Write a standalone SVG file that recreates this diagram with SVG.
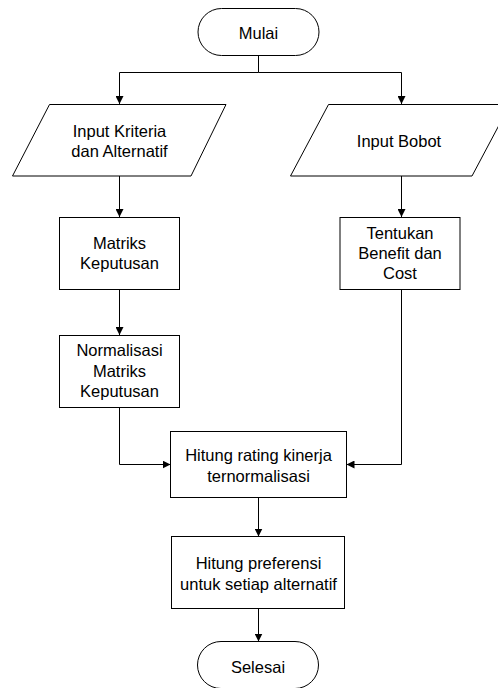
<svg xmlns="http://www.w3.org/2000/svg" width="498" height="688" viewBox="0 0 498 688">
<style>
.s{fill:#fff;stroke:#000;stroke-width:1}
.c{fill:none;stroke:#000;stroke-width:1}
text{font-family:"Liberation Sans",Arial,sans-serif;font-size:16.5px;fill:#000;text-anchor:middle}
</style>
<defs>
<marker id="ah" markerWidth="8" markerHeight="8" refX="8" refY="4" orient="auto" markerUnits="userSpaceOnUse">
<path d="M0,0 L8,4 L0,8 Z" fill="#000"/>
</marker>
</defs>
<rect width="498" height="688" fill="#fff"/>
<g id="connectors">
<path class="c" d="M258.5,55.5 V72.5 H119.5 V104" marker-end="url(#ah)"/>
<path class="c" d="M258.5,72.5 H401.5 V104" marker-end="url(#ah)"/>
<path class="c" d="M119.5,176 V217" marker-end="url(#ah)"/>
<path class="c" d="M401.5,176 V217" marker-end="url(#ah)"/>
<path class="c" d="M119.5,289.5 V335" marker-end="url(#ah)"/>
<path class="c" d="M119.5,407.5 V464.5 H170.5" marker-end="url(#ah)"/>
<path class="c" d="M401.5,289.5 V464.5 H346.5" marker-end="url(#ah)"/>
<path class="c" d="M258.5,497.5 V536.5" marker-end="url(#ah)"/>
<path class="c" d="M258.5,608.5 V641.5" marker-end="url(#ah)"/>
</g>
<g id="mulai">
<rect class="s" x="198" y="8.5" width="121" height="47" rx="23.5" ry="23.5"/>
<text x="258.5" y="38.5">Mulai</text>
</g>
<g id="input-kriteria">
<polygon class="s" points="49.5,104.5 226,104.5 191,176 12.5,176"/>
<text x="119.5" y="136.7">Input Kriteria</text>
<text x="119.5" y="156.7">dan Alternatif</text>
</g>
<g id="input-bobot">
<polygon class="s" points="328.5,104.5 510,104.5 472,176 290.5,176"/>
<text x="399" y="146.7">Input Bobot</text>
</g>
<g id="matriks-keputusan">
<rect class="s" x="59.5" y="217.5" width="120" height="72"/>
<text x="119.5" y="249.3">Matriks</text>
<text x="119.5" y="269">Keputusan</text>
</g>
<g id="tentukan">
<rect class="s" x="340" y="217.5" width="120" height="72"/>
<text x="400" y="239.3">Tentukan</text>
<text x="400" y="259.3">Benefit dan</text>
<text x="400" y="279">Cost</text>
</g>
<g id="normalisasi">
<rect class="s" x="59.5" y="335.5" width="120" height="72"/>
<text x="119.5" y="356">Normalisasi</text>
<text x="119.5" y="376.5">Matriks</text>
<text x="119.5" y="396.7">Keputusan</text>
</g>
<g id="hitung-rating">
<rect class="s" x="170.5" y="431.5" width="176" height="66"/>
<text x="258.5" y="461">Hitung rating kinerja</text>
<text x="258.5" y="481.5">ternormalisasi</text>
</g>
<g id="hitung-preferensi">
<rect class="s" x="171.5" y="536.5" width="173" height="72"/>
<text x="258.5" y="569.3">Hitung preferensi</text>
<text x="258.5" y="590">untuk setiap alternatif</text>
</g>
<g id="selesai">
<rect class="s" x="197.5" y="641.5" width="121" height="47" rx="23.5" ry="23.5"/>
<text x="258" y="673.3">Selesai</text>
</g>
</svg>
